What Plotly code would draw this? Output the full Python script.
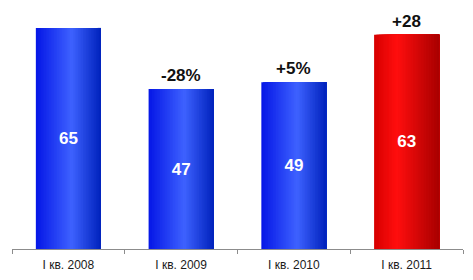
import plotly.graph_objects as go

categories = ["I кв. 2008", "I кв. 2009", "I кв. 2010", "I кв. 2011"]
values = [65, 47, 49, 63]
changes = ["", "-28%", "+5%", "+28"]
bar_kind = ["blue", "blue", "blue", "red"]

BAR_W = 0.577
N_LAYERS = 40

# horizontal gradient stops: (position across bar, rgb)
GRAD = {
    "blue": [(0.0, (5, 22, 230)), (0.55, (62, 98, 255)), (1.0, (0, 34, 188))],
    "red": [(0.0, (215, 0, 0)), (0.35, (255, 14, 14)), (1.0, (168, 0, 0))],
}


def grad_at(stops, t):
    for (p0, c0), (p1, c1) in zip(stops[:-1], stops[1:]):
        if t <= p1:
            u = (t - p0) / (p1 - p0)
            return tuple(round(c0[i] + (c1[i] - c0[i]) * u) for i in range(3))
    return stops[-1][1]


fig = go.Figure()
# each layer covers from its start position to the bar's right edge; later layers
# paint over earlier ones, giving a smooth left-to-right gradient
for k in range(N_LAYERS):
    a = k / N_LAYERS
    t = (k + 0.5) / N_LAYERS
    fig.add_trace(go.Bar(
        x=categories, y=values,
        width=BAR_W * (1 - a), offset=-BAR_W / 2 + BAR_W * a,
        marker=dict(color=["rgb(%d,%d,%d)" % grad_at(GRAD[kind], t) for kind in bar_kind],
                    line=dict(width=0)),
        hoverinfo="skip", showlegend=False,
    ))

# value labels inside bars
fig.add_trace(go.Bar(
    x=categories, y=values, width=BAR_W,
    marker=dict(color="rgba(0,0,0,0)", line=dict(width=0)),
    text=[str(v) for v in values], textposition="inside", insidetextanchor="middle",
    textfont=dict(family="Liberation Sans", size=17, color="white", weight="bold"),
    textangle=0, showlegend=False, hoverinfo="skip",
))

for c, v, ch in zip(categories, values, changes):
    if ch:
        fig.add_annotation(x=c, y=v, text="<b>%s</b>" % ch, showarrow=False,
                           yanchor="bottom", yshift=2,
                           font=dict(family="Liberation Sans", size=17, color="#111"))

fig.update_layout(
    width=473, height=280,
    margin=dict(l=12, r=10, t=0, b=31),
    barmode="overlay",
    plot_bgcolor="white", paper_bgcolor="white",
    xaxis=dict(
        range=[-0.5, 3.5], showline=True, linecolor="#8c8c8c", linewidth=1,
        ticks="outside", tickson="boundaries", ticklen=4, tickcolor="#8c8c8c",
        ticklabelstandoff=5,
        tickfont=dict(family="Liberation Sans", size=12, color="#1a1a1a"),
        showgrid=False, fixedrange=True,
    ),
    yaxis=dict(range=[0, 73.2], visible=False, showgrid=False, fixedrange=True),
)

fig.write_html("out.html")
